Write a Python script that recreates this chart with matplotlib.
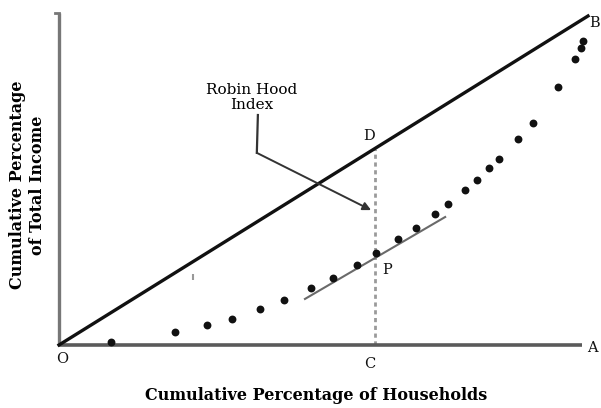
"""
Lorenz-style diagram with the Robin Hood index (tangent at P, gap D-P).
"""
import matplotlib
matplotlib.use("Agg")
import matplotlib.pyplot as plt

# cumulative % of households vs cumulative % of total income
households = [9.8, 21.9, 28.0, 32.7, 38.0, 42.5, 47.6, 51.8, 56.3, 59.9, 64.1,
              67.5, 71.1, 73.5, 76.8, 79.0, 81.3, 83.2, 86.8, 89.6, 94.3, 97.5,
              98.7, 99.1]
income = [0.9, 4.0, 6.1, 7.9, 10.9, 13.7, 17.3, 20.4, 24.3, 28.0, 32.2,
          35.6, 39.8, 42.9, 47.1, 50.2, 53.8, 56.5, 62.6, 67.5, 78.4, 86.9,
          90.3, 92.4]

equality_x = [0, 100]
equality_y = [0, 100]
c_x = 59.7                    # household share at the point of max gap
tangent_x = [46.5, 73.0]
tangent_y = [14.0, 38.9]
arrow_x = [37.6, 37.4, 59.0]
arrow_y = [69.9, 58.4, 41.0]
stray_x, stray_y = 25.3, 20.7  # small scan artefact in the original

SERIF = "DejaVu Serif"
INK = "#111111"
GREY = "#5a5a5a"

fig = plt.figure(figsize=(6.01, 4.08), dpi=100)
ax = fig.add_axes([0, 0, 1, 1])
ax.set_xlim(-11.15, 102.46)
ax.set_ylim(-19.15, 104.86)
ax.set_axis_off()

# axes drawn by hand, like the original sketch
ax.plot([0, 98.9], [0, 0], color=GREY, lw=2.6, solid_capstyle="butt", zorder=2)
ax.plot([0, 0], [0, 100.9], color="#777777", lw=2.4, solid_capstyle="butt", zorder=2)
ax.plot([-0.7, 0], [100.9, 100.9], color="#777777", lw=2.0)

ax.plot(equality_x, equality_y, color=INK, lw=2.4, zorder=3)

ax.plot([c_x, c_x], [0, c_x], color="#9a9a9a", lw=2.0,
        linestyle=(0, (1.5, 1.3)), zorder=1)

ax.plot(tangent_x, tangent_y, color="#6a6a6a", lw=1.5, zorder=2)

ax.scatter(households, income, s=32, color=INK, linewidths=0, zorder=4)
ax.plot([stray_x], [stray_y], marker="|", ms=4, color="#999999", mew=1.5)

ax.plot(arrow_x[:2], arrow_y[:2], color="#333333", lw=1.6)
ax.annotate("", xy=(arrow_x[2], arrow_y[2]), xytext=(arrow_x[1], arrow_y[1]),
            arrowprops=dict(arrowstyle="-|>", color="#333333", lw=1.4,
                            mutation_scale=12, shrinkA=0, shrinkB=0))

ax.text(36.5, 75.3, "Robin Hood\nIndex", family=SERIF, fontsize=11,
        ha="center", va="center", linespacing=1.05)

lbl = dict(family=SERIF, fontsize=10.5, ha="center", va="center", color=INK)
ax.text(0.6, -4.3, "O", **lbl)
ax.text(58.8, -5.9, "C", **lbl)
ax.text(100.8, -0.9, "A", **lbl)
ax.text(101.2, 97.9, "B", **lbl)
ax.text(58.6, 63.5, "D", **lbl)
ax.text(62.0, 22.9, "P", **lbl)

fig.text(316 / 601, 1 - 395 / 408, "Cumulative Percentage of Households",
         family=SERIF, fontsize=11.5, fontweight="bold", ha="center", va="center")
fig.text(27.5 / 601, 1 - 185 / 408, "Cumulative Percentage\nof Total Income",
         family=SERIF, fontsize=11.5, fontweight="bold", ha="center", va="center",
         rotation=90, linespacing=1.25)

fig.savefig("out.png", dpi=100, facecolor="white")
